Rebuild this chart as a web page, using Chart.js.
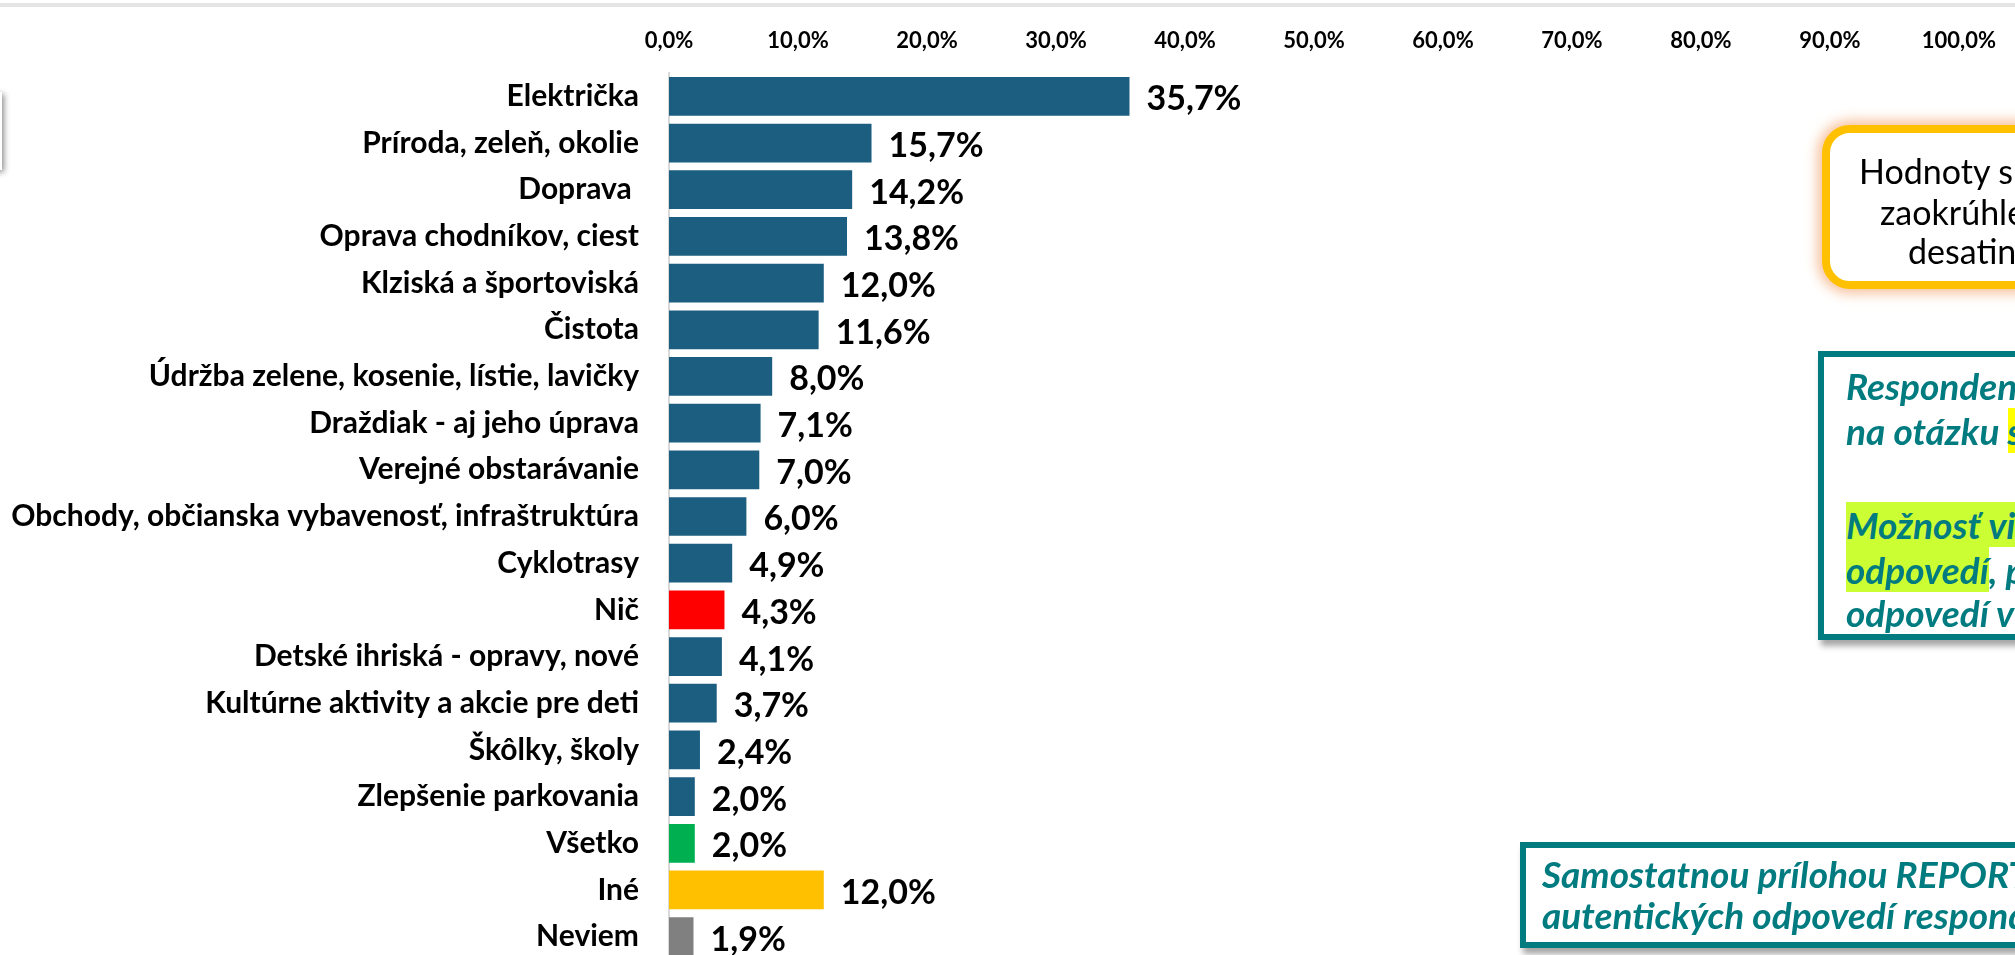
<!DOCTYPE html>
<html>
<head>
<meta charset="utf-8">
<script src="https://cdn.jsdelivr.net/npm/chart.js@4.4.1/dist/chart.umd.min.js"></script>
<style>
  html, body { margin: 0; padding: 0; background: #fff; overflow: hidden; }
  #wrap { position: relative; width: 2015px; height: 955px; overflow: hidden; }
  #chart { position: absolute; left: 0; top: 0; }
  .topline { position: absolute; left: 0; top: 3px; width: 2015px; height: 4px; background: #e4e4e4; }
  .leftbox { position: absolute; left: -300px; top: 92px; width: 302px; height: 78px; background: #fff;
             box-shadow: 2px 2px 6px rgba(0,0,0,0.45); }
  .note { position: absolute; box-sizing: border-box; white-space: nowrap; }
  .ln { position: absolute; white-space: nowrap; }
  .note-orange { left: 1822px; top: 125px; width: 420px; height: 164px; border: 8px solid #FFC000;
                 border-radius: 28px; background: #fff; box-shadow: 0 0 12px 5px rgba(244,177,131,0.75);
                 font: 34px Lato, sans-serif; color: #000; }
  .note-orange .ln { height: 40px; line-height: 40px; }
  .note-teal { border: 6px solid #007C80; background: #fff; box-shadow: 3px 6px 6px rgba(0,0,0,0.35);
               font: italic bold 37px Lato, sans-serif; color: #007B7F; }
  .note-mid { left: 1818px; top: 351px; width: 420px; height: 289px; }
  .note-mid .ln { left: 22px; height: 45px; line-height: 45px; }
  .note-bottom { left: 1520px; top: 842px; width: 700px; height: 106px; }
  .note-bottom .ln { left: 16px; height: 41px; line-height: 41px; }
  .hl-y { background: #FFFF00; display: inline-block; height: 45px; vertical-align: top; }
  .hl-g { background: #CCFF33; display: inline-block; height: 45px; vertical-align: top; }
</style>
</head>
<body>
<div id="wrap">
  <div class="topline"></div>
  <div class="leftbox"></div>
  <canvas id="chart" width="2015" height="962"></canvas>
  <div class="note note-orange">
    <div class="ln" style="left:29px; top:18px">Hodnoty sú v percentách</div>
    <div class="ln" style="left:50px; top:59px">zaokrúhlené na jedno</div>
    <div class="ln" style="left:78px; top:98px">desatinné miesto</div>
  </div>
  <div class="note note-teal note-mid">
    <div class="ln" style="top:6px">Respondenti odpovedali</div>
    <div class="ln" style="top:51px">na otázku <span class="hl-y">spontánne</span>.</div>
    <div class="ln" style="top:145px"><span class="hl-g">Možnosť viacerých</span></div>
    <div class="ln" style="top:190px"><span class="hl-g">odpovedí</span>, preto súčet</div>
    <div class="ln" style="top:233px">odpovedí viac ako 100 %</div>
  </div>
  <div class="note note-teal note-bottom">
    <div class="ln" style="top:5px">Samostatnou prílohou REPORTU je zoznam</div>
    <div class="ln" style="top:46px">autentických odpovedí respondentov.</div>
  </div>
</div>
<script>
// data
const categories = [
  'Električka',
  'Príroda, zeleň, okolie',
  'Doprava ',
  'Oprava chodníkov, ciest',
  'Klziská a športoviská',
  'Čistota',
  'Údržba zelene, kosenie, lístie, lavičky',
  'Draždiak - aj jeho úprava',
  'Verejné obstarávanie',
  'Obchody, občianska vybavenosť, infraštruktúra',
  'Cyklotrasy',
  'Nič',
  'Detské ihriská - opravy, nové',
  'Kultúrne aktivity a akcie pre deti',
  'Škôlky, školy',
  'Zlepšenie parkovania',
  'Všetko',
  'Iné',
  'Neviem'
];
const shares = [35.7, 15.7, 14.2, 13.8, 12.0, 11.6, 8.0, 7.1, 7.0, 6.0, 4.9, 4.3, 4.1, 3.7, 2.4, 2.0, 2.0, 12.0, 1.9];
const xTicks = [0, 10, 20, 30, 40, 50, 60, 70, 80, 90, 100];

// colours
const barBlue = '#1B5E80';
const specialColors = { 'Nič': '#FF0000', 'Všetko': '#00B050', 'Iné': '#FFC000', 'Neviem': '#808080' };

function pct(v) {
  return v.toFixed(1).replace('.', ',') + '%';
}

// value labels next to the bars
const valueLabels = {
  id: 'valueLabels',
  afterDatasetsDraw(chart) {
    const ctx = chart.ctx;
    const meta = chart.getDatasetMeta(0);
    ctx.save();
    ctx.font = 'bold 34px Lato';
    ctx.fillStyle = '#000';
    ctx.textAlign = 'left';
    ctx.textBaseline = 'middle';
    meta.data.forEach((bar, i) => {
      ctx.fillText(pct(shares[i]), bar.x + 17, bar.y + 3);
    });
    ctx.restore();
  }
};

new Chart(document.getElementById('chart'), {
  type: 'bar',
  data: {
    labels: categories,
    datasets: [{
      data: shares,
      backgroundColor: categories.map(c => specialColors[c] || barBlue),
      borderWidth: 0,
      categoryPercentage: 1,
      barPercentage: 0.83
    }]
  },
  options: {
    indexAxis: 'y',
    responsive: false,
    animation: false,
    layout: { padding: { right: 54, bottom: 2 } },
    plugins: { legend: { display: false }, tooltip: { enabled: false } },
    scales: {
      x: {
        position: 'top',
        min: 0,
        max: 100,
        grid: { display: false, drawTicks: false },
        border: { display: false },
        afterBuildTicks: scale => { scale.ticks = xTicks.map(v => ({ value: v })); },
        afterFit: scale => { scale.height = 73; },
        ticks: {
          padding: 19,
          color: '#000',
          font: { family: 'Lato', weight: 'bold', size: 22 },
          callback: v => pct(v),
          maxRotation: 0
        }
      },
      y: {
        grid: { display: false, drawTicks: false },
        border: { display: true, color: '#d9d9d9', width: 2 },
        afterFit: scale => {
          scale.width = 669;
          // label padding would otherwise shrink the plot at the bottom
          scale.paddingTop = 0;
          scale.paddingBottom = 0;
        },
        ticks: {
          padding: 30,
          color: '#000',
          font: { family: 'Lato', weight: 'bold', size: 30 },
          autoSkip: false
        }
      }
    }
  },
  plugins: [valueLabels]
});
</script>
</body>
</html>
